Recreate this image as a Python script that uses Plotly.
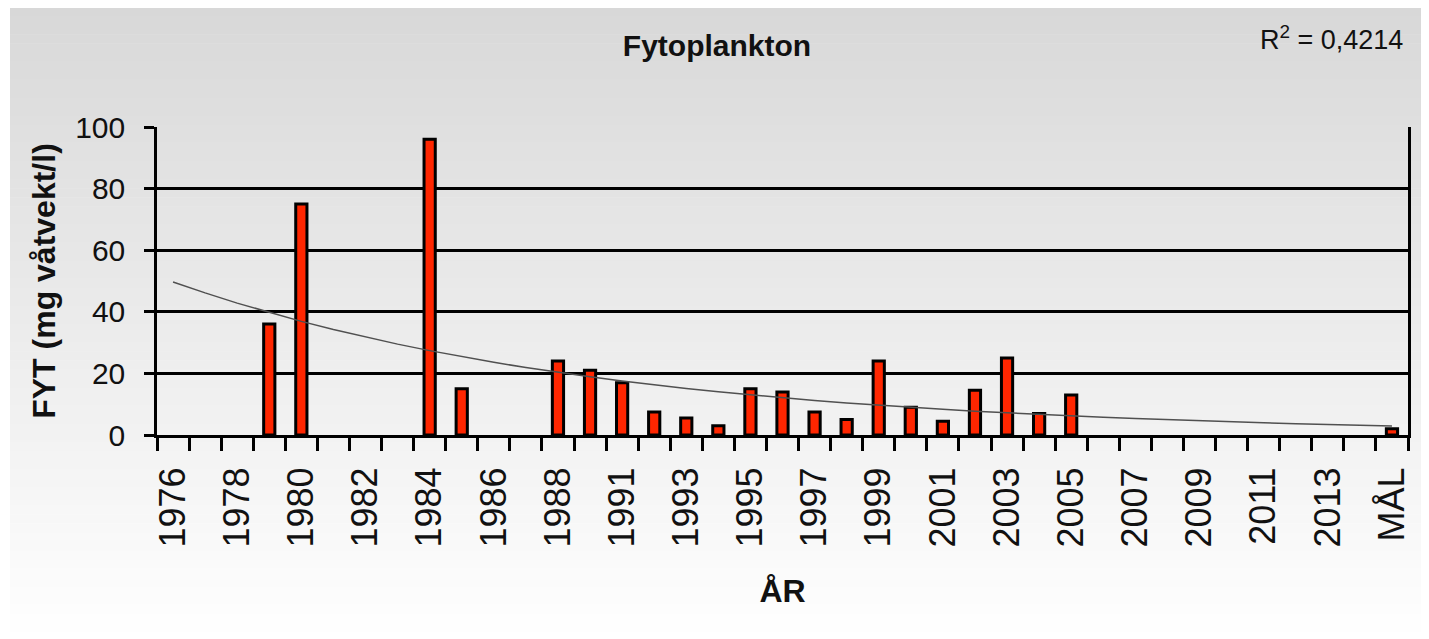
import numpy as np
import plotly.graph_objects as go

# ---- data ----
categories = ["1976", "1977", "1978", "1979", "1980", "1981", "1982", "1983",
              "1984", "1985", "1986", "1987", "1988", "1989", "1991", "1992",
              "1993", "1994", "1995", "1996", "1997", "1998", "1999", "2000",
              "2001", "2002", "2003", "2004", "2005", "2006", "2007", "2008",
              "2009", "2010", "2011", "2012", "2013", "2014", "MÅL"]
fyt_values = [None, None, None, 36, 75, None, None, None,
              96, 15, None, None, 24, 21, 17, 7.5,
              5.5, 3, 15, 14, 7.5, 5, 24, 9,
              4.5, 14.5, 25, 7, 13, None, None, None,
              None, None, None, None, None, None, 2]
y_ticks = [0, 20, 40, 60, 80, 100]
title_text = "Fytoplankton"
r2_text = "R<sup>2</sup> = 0,4214"
y_title = "FYT (mg våtvekt/l)"
x_title = "ÅR"

# exponential trend line fitted to the bar values (as the spreadsheet does)
idx = np.arange(len(categories))
mask = np.array([v is not None for v in fyt_values])
yy = np.array([v for v in fyt_values if v is not None], dtype=float)
b, a = np.polyfit(idx[mask], np.log(yy), 1)
trend = np.exp(a + b * idx)

tick_text = [c if i % 2 == 0 else "" for i, c in enumerate(categories)]

# ---- layout geometry (page pixels; the html body adds an 8px margin) ----
OFF = 8
PAGE_W, PAGE_H = 1429, 639
W, H = PAGE_W - OFF, PAGE_H - OFF
L, R, T, B = 157 - OFF, 1408 - OFF, 127 - OFF, 435 - OFF


def px_x(page_px):
    return (page_px - OFF - L) / (R - L)


def px_y(page_py):
    return (B - (page_py - OFF)) / (B - T)


fig = go.Figure()

fig.add_trace(go.Bar(
    x=categories, y=fyt_values,
    width=0.35,
    marker=dict(color="#ff2600", line=dict(color="black", width=3)),
    showlegend=False, hoverinfo="x+y",
))

fig.add_trace(go.Scatter(
    x=categories, y=trend, mode="lines",
    line=dict(color="#505050", width=1.5),
    showlegend=False, hoverinfo="skip",
))

# gradient background (grey at top to white at bottom)
shapes = []
n_bands = 70
top_px, bot_px = 7, PAGE_H + 2
for i in range(n_bands):
    y0 = top_px + (bot_px - top_px) * i / n_bands
    y1 = top_px + (bot_px - top_px) * (i + 1) / n_bands + 0.6
    t = (i + 0.5) / n_bands
    g = int(round(216 + (255 - 216) * t))
    shapes.append(dict(
        type="rect", xref="paper", yref="paper", layer="below",
        x0=px_x(10), x1=px_x(1425), y0=px_y(y1), y1=px_y(y0),
        fillcolor=f"rgb({g},{g},{g})", line=dict(width=0),
    ))

font_family = "Liberation Sans, Arial, sans-serif"

fig.update_layout(
    width=W, height=H,
    margin=dict(l=L, r=W - R, t=T, b=H - B, autoexpand=False),
    paper_bgcolor="white",
    plot_bgcolor="rgba(0,0,0,0)",
    shapes=shapes,
    font=dict(family=font_family, color="#111111"),
    title=dict(
        text=f"<b>{title_text}</b>",
        x=709 / W, xref="container", xanchor="center",
        y=1 - 37 / H, yref="container", yanchor="middle",
        font=dict(size=30, family=font_family, color="#111111"),
    ),
    annotations=[dict(
        text=r2_text, xref="paper", yref="paper",
        x=px_x(1405), y=px_y(38), xanchor="right", yanchor="middle",
        showarrow=False, font=dict(size=27, family=font_family, color="#111111"),
    )],
    xaxis=dict(
        type="category",
        tickmode="array", tickvals=categories, ticktext=tick_text,
        tickson="boundaries",
        ticks="outside", ticklen=13, tickwidth=3, tickcolor="black",
        tickangle=-90,
        tickfont=dict(size=36, family=font_family, color="#111111"),
        ticklabelstandoff=15,
        showline=True, linecolor="black", linewidth=3,
        showgrid=False, zeroline=False,
        range=[-0.5, len(categories) - 0.5],
        title=dict(text=f"<b>{x_title}</b>", standoff=34,
                   font=dict(size=32, family=font_family, color="#111111")),
    ),
    yaxis=dict(
        range=[0, 100], tickmode="array", tickvals=y_ticks,
        ticks="outside", ticklen=10, tickwidth=2.5, tickcolor="black",
        tickfont=dict(size=30, family=font_family, color="#111111"),
        ticklabelstandoff=13,
        showline=True, linecolor="black", linewidth=2.5, mirror=True,
        showgrid=True, gridcolor="black", gridwidth=2.5,
        zeroline=False,
        title=dict(text=f"<b>{y_title}</b>", standoff=10,
                   font=dict(size=32, family=font_family, color="#111111")),
    ),
)

fig.write_html("out.html")
